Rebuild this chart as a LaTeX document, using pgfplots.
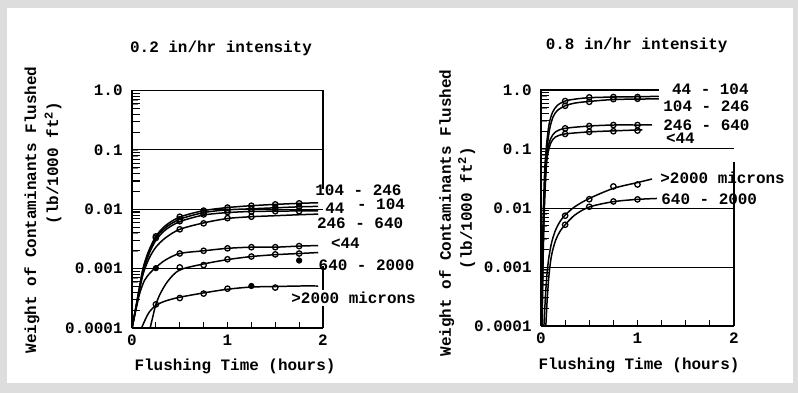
\documentclass[border=0pt]{standalone}
\usepackage{pgfplots}
\pgfplotsset{compat=1.18}
\usepackage{fontspec}
\setmainfont{Liberation Mono}
\definecolor{framegray}{RGB}{221,221,221}
\newcommand{\lf}{\fontsize{8}{9.6}\selectfont\bfseries}

\pgfplotsset{
  flushax/.style={
    scale only axis, anchor=south west, clip=false,
    xmin=0, xmax=2, ymin=1e-4, ymax=1,
    axis line style={draw=none},
    xtick pos=bottom, ytick pos=left,
    xtick={0,1,2}, xticklabels={0,1,2},
    ytick={1e-4,1e-3,1e-2,1e-1,1},
    yticklabels={0.0001,0.001,0.01,0.1,1.0},
    tick align=inside,
    major tick length=0pt,
    ticklabel style={font=\lf},
    yticklabel style={inner sep=0pt, xshift=-4.5bp},
    xticklabel style={inner sep=0pt, yshift=-3.2bp},
  },
  flcurve/.style={black, line width=0.75pt, smooth, no marks},
  flpts/.style={only marks, mark=o, mark size=1.35bp, mark options={black, line width=0.65pt}},
  flfpts/.style={only marks, mark=*, mark size=1.35bp, mark options={black, fill=black}},
  fltick/.style={black, line width=0.55pt, no marks, unbounded coords=jump},
}
% inward tick marks on the left and bottom edges, as short plotted segments
\newcommand{\flticks}{%
  \addplot[fltick] coordinates {
    (0,2e-4)(0.08,2e-4)(0,nan)(0,3e-4)(0.08,3e-4)(0,nan)(0,4e-4)(0.08,4e-4)(0,nan)
    (0,5e-4)(0.08,5e-4)(0,nan)(0,6e-4)(0.08,6e-4)(0,nan)(0,7e-4)(0.08,7e-4)(0,nan)
    (0,8e-4)(0.08,8e-4)(0,nan)(0,9e-4)(0.08,9e-4)(0,nan)
    (0,2e-3)(0.08,2e-3)(0,nan)(0,3e-3)(0.08,3e-3)(0,nan)(0,4e-3)(0.08,4e-3)(0,nan)
    (0,5e-3)(0.08,5e-3)(0,nan)(0,6e-3)(0.08,6e-3)(0,nan)(0,7e-3)(0.08,7e-3)(0,nan)
    (0,8e-3)(0.08,8e-3)(0,nan)(0,9e-3)(0.08,9e-3)(0,nan)
    (0,2e-2)(0.08,2e-2)(0,nan)(0,3e-2)(0.08,3e-2)(0,nan)(0,4e-2)(0.08,4e-2)(0,nan)
    (0,5e-2)(0.08,5e-2)(0,nan)(0,6e-2)(0.08,6e-2)(0,nan)(0,7e-2)(0.08,7e-2)(0,nan)
    (0,8e-2)(0.08,8e-2)(0,nan)(0,9e-2)(0.08,9e-2)(0,nan)
    (0,0.2)(0.08,0.2)(0,nan)(0,0.3)(0.08,0.3)(0,nan)(0,0.4)(0.08,0.4)(0,nan)
    (0,0.5)(0.08,0.5)(0,nan)(0,0.6)(0.08,0.6)(0,nan)(0,0.7)(0.08,0.7)(0,nan)
    (0,0.8)(0.08,0.8)(0,nan)(0,0.9)(0.08,0.9)};
  \addplot[fltick] coordinates {
    (0.25,1e-4)(0.25,1.24e-4)(0.25,nan)(0.5,1e-4)(0.5,1.24e-4)(0.5,nan)
    (0.75,1e-4)(0.75,1.24e-4)(0.75,nan)(1,1e-4)(1,1.24e-4)(1,nan)
    (1.25,1e-4)(1.25,1.24e-4)(1.25,nan)(1.5,1e-4)(1.5,1.24e-4)(1.5,nan)
    (1.75,1e-4)(1.75,1.24e-4)(1.75,nan)(2,1e-4)(2,1.24e-4)};
}

\begin{document}
\begin{tikzpicture}
\begin{scope}[x=0.5bp, y=-0.5bp]
  \fill[framegray] (0,0) rectangle (798,393);
  \fill[white] (7,8) rectangle (793,383);
\end{scope}

% ---- 0.2 in/hr ----
\begin{axis}[ymode=log, flushax, at={(66bp,-164bp)}, width=95.5bp, height=118.7bp]
  \draw[line width=0.5pt] (axis cs:0,0.1) -- (axis cs:2,0.1);
  \draw[line width=0.5pt] (axis cs:0,0.01) -- (axis cs:2,0.01);
  \draw[line width=0.4pt] (axis cs:0,0.001) -- (axis cs:2,0.001);
  \draw[line width=0.6pt] (axis cs:0,1e-4) -- (axis cs:2,1e-4);
  \draw[line width=0.6pt] (axis cs:0,1e-4) -- (axis cs:0,1) -- (axis cs:2,1) -- (axis cs:2,0.022);
  \draw[line width=0.6pt] (axis cs:2,0.0011) -- (axis cs:2,1e-4);
  \flticks

  % 104 - 246
  \addplot[flcurve] coordinates {(0,1e-4)(0.04,2.2e-4)(0.08,5e-4)(0.115,1e-3)(0.17,1.9e-3)(0.25,3.5e-3)(0.35,5.3e-3)(0.5,7.4e-3)(0.75,9.5e-3)(1,0.0107)(1.25,0.0115)(1.5,0.0121)(1.75,0.0126)(1.95,0.0129)};
  \addplot[flpts] coordinates {(0.25,3.5e-3)(0.5,7.5e-3)(0.75,9.5e-3)(1,0.0107)(1.25,0.0115)(1.5,0.0121)(1.75,0.0126)};
  % 44 - 104
  \addplot[flcurve] coordinates {(0,1e-4)(0.04,2.2e-4)(0.08,5e-4)(0.12,1.05e-3)(0.18,2e-3)(0.25,3.3e-3)(0.35,4.9e-3)(0.5,6.8e-3)(0.75,8.8e-3)(1,0.0098)(1.25,0.0102)(1.5,0.0106)(1.75,0.011)(1.95,0.0112)};
  \addplot[flpts] coordinates {(0.25,3.3e-3)(0.5,6.8e-3)(0.75,8.8e-3)(1,9.8e-3)(1.25,0.0102)(1.5,0.0106)(1.75,0.011)};
  \addplot[flcurve] coordinates {(0,1e-4)(0.04,2.1e-4)(0.08,4.6e-4)(0.12,9.5e-4)(0.18,1.8e-3)(0.25,3.0e-3)(0.35,4.5e-3)(0.5,6.2e-3)(0.75,8.0e-3)(1,8.8e-3)(1.25,9.2e-3)(1.5,9.3e-3)(1.75,9.4e-3)(1.95,9.4e-3)};
  \addplot[flpts] coordinates {(0.5,6.3e-3)(0.75,8.2e-3)(1,9.0e-3)(1.25,9.2e-3)(1.5,9.3e-3)(1.75,9.3e-3)};
  % 246 - 640
  \addplot[flcurve] coordinates {(0,1e-4)(0.04,2.1e-4)(0.08,4.5e-4)(0.12,8.5e-4)(0.18,1.5e-3)(0.25,2.3e-3)(0.35,3.3e-3)(0.5,4.6e-3)(0.75,5.9e-3)(1,7.0e-3)(1.25,7.5e-3)(1.5,7.8e-3)(1.75,8.1e-3)(1.95,8.3e-3)};
  \addplot[flpts] coordinates {(0.5,4.6e-3)(0.75,5.8e-3)(1,7.1e-3)(1.25,7.5e-3)};
  % <44
  \addplot[flcurve] coordinates {(0,1e-4)(0.04,2e-4)(0.08,3.8e-4)(0.13,6.3e-4)(0.19,8.5e-4)(0.25,1.05e-3)(0.35,1.4e-3)(0.5,1.8e-3)(0.75,2.0e-3)(1,2.2e-3)(1.25,2.3e-3)(1.5,2.3e-3)(1.75,2.4e-3)(1.95,2.45e-3)};
  \addplot[flpts] coordinates {(0.5,1.8e-3)(0.75,2.0e-3)(1,2.2e-3)(1.25,2.3e-3)(1.5,2.3e-3)(1.75,2.4e-3)};
  \addplot[flfpts] coordinates {(0.25,1.02e-3)};
  % 640 - 2000
  \addplot[flcurve] coordinates {(0.19,1e-4)(0.22,1.6e-4)(0.25,2.5e-4)(0.3,3.9e-4)(0.38,6.3e-4)(0.5,9.5e-4)(0.75,1.2e-3)(1,1.42e-3)(1.25,1.6e-3)(1.5,1.72e-3)(1.75,1.8e-3)(1.95,1.87e-3)};
  \addplot[flpts] coordinates {(0.5,1.05e-3)(0.75,1.15e-3)(1,1.44e-3)(1.25,1.6e-3)(1.5,1.74e-3)(1.75,1.8e-3)};
  \addplot[flfpts] coordinates {(1.75,1.37e-3)};
  % >2000 microns
  \addplot[flcurve] coordinates {(0.1,1e-4)(0.14,1.4e-4)(0.18,1.85e-4)(0.25,2.4e-4)(0.35,2.85e-4)(0.5,3.3e-4)(0.75,3.9e-4)(1,4.5e-4)(1.25,4.9e-4)(1.5,5.0e-4)(1.75,5.1e-4)(1.95,5.1e-4)};
  \addplot[flpts] coordinates {(0.25,2.5e-4)(0.5,3.2e-4)(0.75,3.8e-4)(1,4.6e-4)(1.5,4.8e-4)};
  \addplot[flfpts] coordinates {(1.25,5.1e-4)};
\end{axis}

% ---- 0.8 in/hr ----
\begin{axis}[ymode=log, flushax, at={(270.5bp,-163bp)}, width=96.5bp, height=118bp]
  \draw[line width=0.5pt] (axis cs:0,0.1) -- (axis cs:2,0.1);
  \draw[line width=0.5pt] (axis cs:0,0.01) -- (axis cs:2,0.01);
  \draw[line width=0.5pt] (axis cs:0,0.001) -- (axis cs:2,0.001);
  \draw[line width=0.6pt] (axis cs:0,1e-4) -- (axis cs:2,1e-4);
  \draw[line width=0.6pt] (axis cs:0,1e-4) -- (axis cs:0,1) -- (axis cs:1.22,1);
  \draw[line width=0.6pt] (axis cs:2,0.06) -- (axis cs:2,1e-4);
  \flticks

  % 44 - 104
  \addplot[flcurve] coordinates {(0.005,1e-4)(0.012,1e-3)(0.025,0.01)(0.04,0.05)(0.06,0.13)(0.085,0.27)(0.12,0.42)(0.17,0.55)(0.25,0.65)(0.35,0.70)(0.5,0.74)(0.75,0.76)(1,0.77)(1.22,0.78)};
  \addplot[flpts] coordinates {(0.25,0.65)(0.5,0.75)(0.75,0.76)(1,0.76)};
  % 104 - 246
  \addplot[flcurve] coordinates {(0.008,1e-4)(0.016,1e-3)(0.03,0.01)(0.045,0.045)(0.065,0.11)(0.09,0.22)(0.125,0.35)(0.17,0.45)(0.25,0.54)(0.35,0.6)(0.5,0.64)(0.75,0.69)(1,0.70)(1.22,0.71)};
  \addplot[flpts] coordinates {(0.25,0.54)(0.5,0.63)(0.75,0.70)(1,0.71)};
  % 246 - 640
  \addplot[flcurve] coordinates {(0.01,1e-4)(0.018,1e-3)(0.032,0.01)(0.05,0.05)(0.07,0.1)(0.1,0.15)(0.15,0.195)(0.25,0.224)(0.5,0.245)(0.75,0.255)(1,0.255)(1.15,0.256)};
  \addplot[flpts] coordinates {(0.25,0.224)(0.5,0.245)(0.75,0.255)(1,0.255)};
  % <44
  \addplot[flcurve] coordinates {(0.012,1e-4)(0.02,1e-3)(0.035,0.01)(0.055,0.05)(0.075,0.09)(0.105,0.13)(0.15,0.16)(0.25,0.18)(0.5,0.195)(0.75,0.203)(1,0.21)(1.05,0.21)};
  \addplot[flpts] coordinates {(0.25,0.18)(0.5,0.195)(0.75,0.20)(1,0.205)};
  % >2000 microns
  \addplot[flcurve] coordinates {(0.03,1e-4)(0.045,3e-4)(0.06,7e-4)(0.08,1.4e-3)(0.11,2.6e-3)(0.15,4.2e-3)(0.2,6e-3)(0.25,7.6e-3)(0.35,1.05e-2)(0.5,1.45e-2)(0.75,2.15e-2)(1,2.7e-2)(1.15,3.1e-2)};
  \addplot[flpts] coordinates {(0.25,7.4e-3)(0.5,1.41e-2)(0.75,2.32e-2)(1,2.5e-2)};
  % 640 - 2000
  \addplot[flcurve] coordinates {(0.05,1e-4)(0.065,3e-4)(0.085,8e-4)(0.11,1.6e-3)(0.15,2.8e-3)(0.2,4.1e-3)(0.25,5.2e-3)(0.35,7.6e-3)(0.5,1.04e-2)(0.75,1.28e-2)(1,1.4e-2)(1.2,1.45e-2)};
  \addplot[flpts] coordinates {(0.25,5.2e-3)(0.5,1.05e-2)(0.75,1.29e-2)(1,1.4e-2)};
\end{axis}

% ---- text ----
\begin{scope}[x=0.5bp, y=-0.5bp, every node/.style={font=\lf, inner sep=0pt}]
  \node at (221,48) {0.2 in/hr intensity};
  \node at (636.7,45) {0.8 in/hr intensity};
  \node at (235,366.7) {Flushing Time (hours)};
  \node at (639,365) {Flushing Time (hours)};
  \node[rotate=90] at (32,210) {Weight of Contaminants Flushed};
  \node[rotate=90] at (53,163) {(lb/1000 ft\textsuperscript{2})};
  \node[rotate=90] at (446.7,213) {Weight of Contaminants Flushed};
  \node[rotate=90] at (466.7,208) {(lb/1000 ft\textsuperscript{2})};
  % left panel curve labels
  \node[anchor=west] at (315,190.5) {104 - 246};
  \node[anchor=west] at (325,207.8) {44};
  \node[anchor=west] at (356.7,204.5) {- 104};
  \node[anchor=west] at (316.7,223.3) {246 - 640};
  \node[anchor=west] at (330.7,243.3) {<44};
  \node[anchor=west] at (318.3,265) {640 - 2000};
  \node[anchor=west, fill=white, inner sep=1bp] at (289,298.3) {>2000 microns};
  % right panel curve labels
  \node[anchor=west] at (671.7,89.3) {44 - 104};
  \node[anchor=west] at (663,106) {104 - 246};
  \node[anchor=west] at (663,125.3) {246 - 640};
  \node[anchor=west] at (665.7,138.5) {<44};
  \node[anchor=west] at (660,178.3) {>2000 microns};
  \node[anchor=west] at (661,199) {640 - 2000};
\end{scope}
\end{tikzpicture}
\end{document}
